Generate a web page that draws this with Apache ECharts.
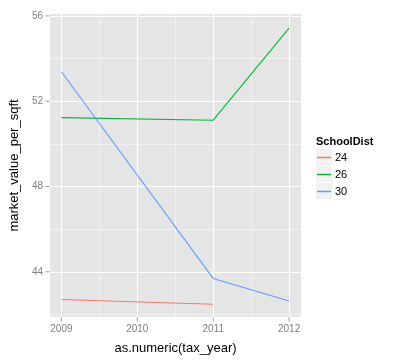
<!DOCTYPE html>
<html><head><meta charset="utf-8">
<script src="https://cdn.jsdelivr.net/npm/echarts@6/dist/echarts.min.js"></script>
<style>html,body{margin:0;padding:0;background:#fff}#c{width:396px;height:360px}</style>
</head><body><div id="c"></div>
<script>
const years = [2009, 2010, 2011, 2012];
const dist24 = [[2009, 42.70], [2011, 42.48]];
const dist26 = [[2009, 51.23], [2011, 51.11], [2012, 55.43]];
const dist30 = [[2009, 53.38], [2011, 43.69], [2012, 42.63]];
const yTicks = [44, 48, 52, 56];
const yMinor = [42, 46, 50, 54];
const xMinor = [2009.5, 2010.5, 2011.5];
const seriesNames = ['24', '26', '30'];
const colors = ['#F8766D', '#00BA38', '#619CFF'];
const xMin = 2008.85, xMax = 2012.157, yMin = 41.88, yMax = 56.09;

const chart = echarts.init(document.getElementById('c'));
const gridLines = [];
yTicks.forEach(v => gridLines.push({yAxis: v, lineStyle: {width: 1.2}}));
yMinor.forEach(v => gridLines.push({yAxis: v, lineStyle: {width: 0.5}}));
years.forEach(v => gridLines.push({xAxis: v, lineStyle: {width: 1.2}}));
xMinor.forEach(v => gridLines.push({xAxis: v, lineStyle: {width: 0.5}}));

const mk = (name, data, color, withGrid) => ({
  name, type: 'line', data, showSymbol: false, symbol: 'none',
  lineStyle: {color, width: 1.1}, itemStyle: {color}, animation: false,
  markLine: withGrid ? {silent: true, symbol: 'none', label: {show: false},
    lineStyle: {color: '#ffffff', type: 'solid'}, data: gridLines, animation: false, z: 0} : undefined,
  z: 3
});

chart.setOption({
  animation: false,
  grid: {left: 41, top: 14, width: 260, height: 308, show: true, backgroundColor: '#E5E5E5', borderWidth: 0},
  xAxis: {
    type: 'value', min: xMin, max: xMax,
    name: 'as.numeric(tax_year)', nameLocation: 'middle', nameGap: 25,
    nameTextStyle: {color: '#000', fontSize: 13, fontFamily: 'Liberation Sans'},
    axisLine: {show: false},
    axisTick: {show: false},
    axisLabel: {customValues: years, formatter: v => String(v), color: '#7F7F7F', fontSize: 10, margin: 7, fontFamily: 'Liberation Sans'},
    splitLine: {show: false}
  },
  yAxis: {
    type: 'value', min: yMin, max: yMax,
    name: 'market_value_per_sqft', nameLocation: 'middle', nameGap: 28,
    nameTextStyle: {color: '#000', fontSize: 13, fontFamily: 'Liberation Sans'},
    axisLine: {show: false},
    axisTick: {show: false},
    axisLabel: {customValues: yTicks, formatter: v => String(v), color: '#7F7F7F', fontSize: 10, margin: 7, fontFamily: 'Liberation Sans'},
    splitLine: {show: false}
  },
  legend: {
    orient: 'vertical', left: 317, top: 149, itemWidth: 14, itemHeight: 1.5, itemGap: 0,
    icon: 'rect', data: seriesNames,
    textStyle: {fontSize: 11, lineHeight: 17, color: '#000', fontFamily: 'Liberation Sans', padding: [0, 0, 0, -1]},
    padding: 0
  },
  graphic: [
    {type: 'text', left: 316, top: 136, style: {text: 'SchoolDist', fontWeight: 'bold', fontSize: 11, fill: '#000', fontFamily: 'Liberation Sans'}},
    {type: 'rect', shape: {x: 316, y: 149, width: 16, height: 16}, style: {fill: '#F2F2F2'}, z: -1},
    {type: 'rect', shape: {x: 316, y: 166, width: 16, height: 16}, style: {fill: '#F2F2F2'}, z: -1},
    {type: 'rect', shape: {x: 316, y: 183, width: 16, height: 16}, style: {fill: '#F2F2F2'}, z: -1}
  ],
  series: [
    mk(seriesNames[0], dist24, colors[0], true),
    mk(seriesNames[1], dist26, colors[1], false),
    mk(seriesNames[2], dist30, colors[2], false),
    {type: 'scatter', name: 'yticks', silent: true, clip: false, data: yTicks.map(v => [xMin, v]),
      symbol: 'rect', symbolSize: [4, 1], symbolOffset: [-2.5, 0], itemStyle: {color: '#7F7F7F'}},
    {type: 'scatter', name: 'xticks', silent: true, clip: false, data: years.map(v => [v, yMin]),
      symbol: 'rect', symbolSize: [1, 4], symbolOffset: [0, 2.5], itemStyle: {color: '#7F7F7F'}}
  ]
});
</script></body></html>
